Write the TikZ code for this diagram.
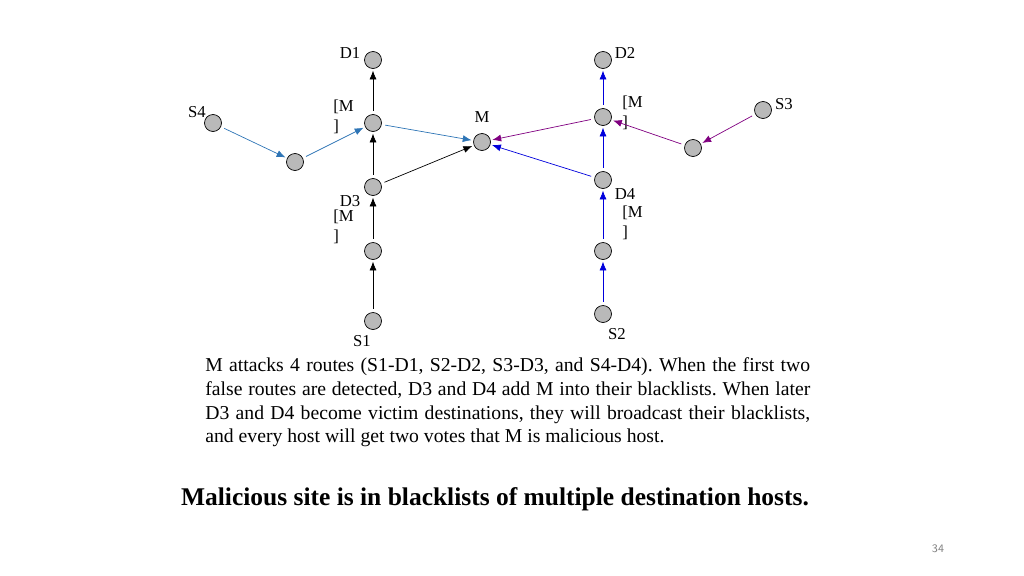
\documentclass[tikz,border=0pt]{standalone}
\usepackage{fontspec}
\setmainfont{Liberation Serif}
\usetikzlibrary{arrows.meta}
\frenchspacing
\definecolor{cblue}{RGB}{46,117,182}
\definecolor{cpur}{RGB}{128,0,128}
\definecolor{cdb}{RGB}{0,0,220}
\begin{document}
\begin{tikzpicture}[x=0.02cm,y=-0.02cm,
 nd/.style={circle,draw,fill=gray!55,minimum size=0.34cm,inner sep=0pt},
 lb/.style={font=\fontsize{9.5}{11}\selectfont,inner sep=0pt},
 ar/.style={-{Latex[length=5pt,width=4pt]},shorten >=1pt,shorten <=2pt}]
\useasboundingbox (0,0) rectangle (1024,575);
\node[nd] (d1) at (373,60) {};
\node[nd] (n1) at (373,123) {};
\node[nd] (d3) at (373,187) {};
\node[nd] (a1) at (373,251) {};
\node[nd] (s1) at (373,321) {};
\node[nd] (s4) at (213,123) {};
\node[nd] (b4) at (295,162) {};
\node[nd] (m) at (482,142) {};
\node[nd] (d2) at (603,60) {};
\node[nd] (n2) at (603,117) {};
\node[nd] (d4) at (603,180) {};
\node[nd] (a2) at (603,251) {};
\node[nd] (s2) at (603,314) {};
\node[nd] (s3) at (763,110) {};
\node[nd] (b3) at (693,148) {};
\node[lb] (ld1) at (350,53) {D1};
\node[lb] (ls4) at (197,112) {S4};
\node[lb,align=left,anchor=north west] (lm1) at (333,100) {[M\\]};
\node[lb] (lm) at (482,117) {M};
\node[lb] (ld3) at (350,201) {D3};
\node[lb,align=left,anchor=north west] (lm3) at (333,210) {[M\\]};
\node[lb] (ls1) at (362,341) {S1};
\node[lb] (ld2) at (625,53) {D2};
\node[lb,align=left,anchor=north west] (lm2) at (622,96) {[M\\]};
\node[lb] (ls3) at (784,104) {S3};
\node[lb] (ld4) at (625,194) {D4};
\node[lb,align=left,anchor=north west] (lm4) at (622,206) {[M\\]};
\node[lb] (ls2) at (617,334) {S2};
\draw[ar] (s1) -- (a1);
\draw[ar] (a1) -- (d3);
\draw[ar] (d3) -- (n1);
\draw[ar] (n1) -- (d1);
\draw[ar] (d3) -- (m);
\draw[ar,cblue] (s4) -- (b4);
\draw[ar,cblue] (b4) -- (n1);
\draw[ar,cblue] (n1) -- (m);
\draw[ar,cdb] (s2) -- (a2);
\draw[ar,cdb] (a2) -- (d4);
\draw[ar,cdb] (d4) -- (n2);
\draw[ar,cdb] (n2) -- (d2);
\draw[ar,cdb] (d4) -- (m);
\draw[ar,cpur] (s3) -- (b3);
\draw[ar,cpur] (b3) -- (n2);
\draw[ar,cpur] (n2) -- (m);
\node[anchor=north west,text width=12.1cm,align=justify,inner sep=0pt,
 font=\fontsize{11.2}{13.6}\selectfont] (txt) at (205,357)
 {M attacks 4 routes (S1-D1, S2-D2, S3-D3, and S4-D4). When the first two false routes are detected, D3 and D4 add M into their blacklists. When later D3 and D4 become victim destinations, they will broadcast their blacklists, and every host will get two votes that M is malicious host.};
\node[font=\fontsize{14.5}{17}\selectfont\bfseries] (ttl) at (495,499) {Malicious site is in blacklists of multiple destination hosts.};
\node[font=\sffamily\fontsize{6.5}{8}\selectfont,text=gray] (pg) at (938,549) {34};
\end{tikzpicture}
\end{document}
